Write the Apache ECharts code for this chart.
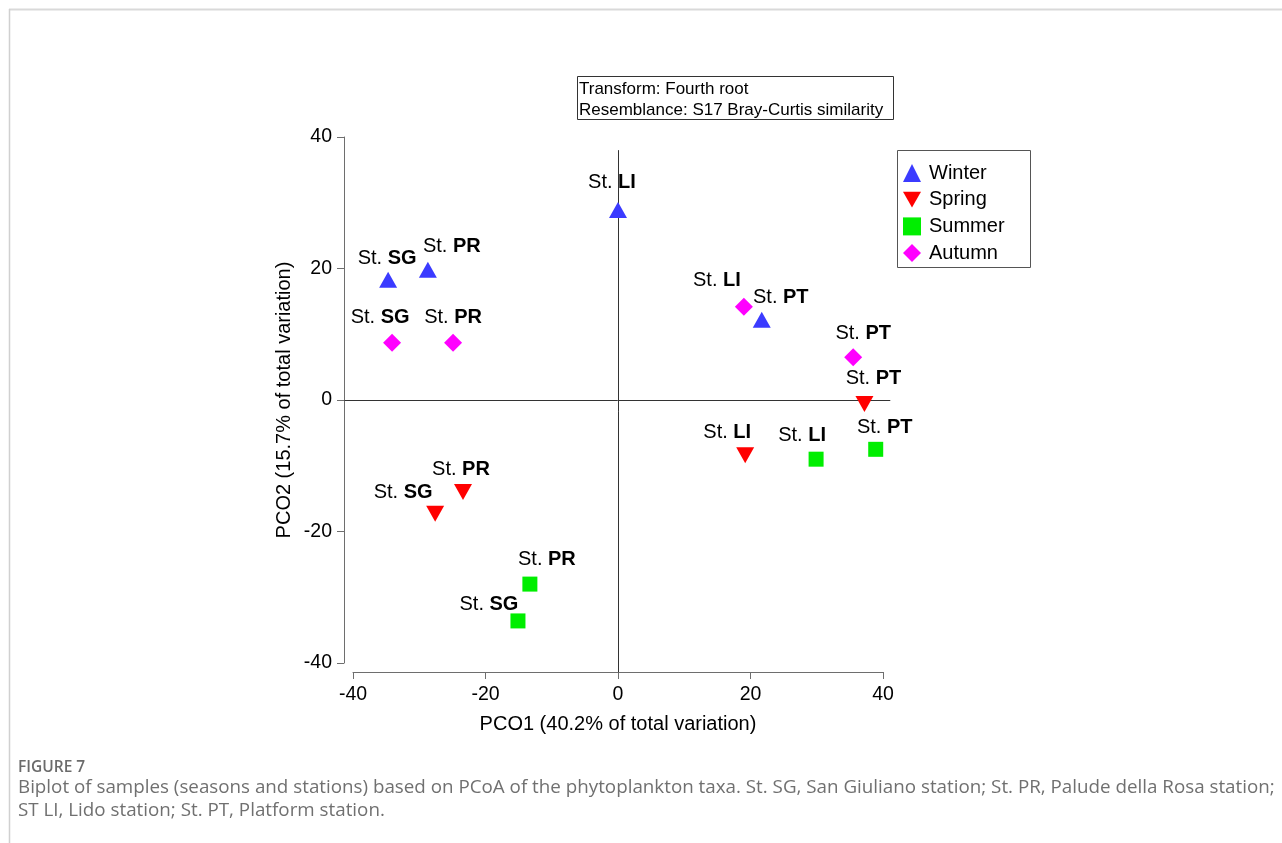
<!DOCTYPE html>
<html>
<head>
<meta charset="utf-8">
<script src="https://cdn.jsdelivr.net/npm/echarts@6/dist/echarts.min.js"></script>
<style>
html,body{margin:0;padding:0;background:#fff;}
#chart{width:1282px;height:843px;}
</style>
</head>
<body>
<div id="chart"></div>
<script>
// ---- data ----
const seasons = ['Winter', 'Spring', 'Summer', 'Autumn'];
const stations = ['SG', 'PR', 'LI', 'PT'];
const winterX = [-34.7, -28.7, 0.0, 21.7];
const winterY = [18.3, 19.8, 28.9, 12.2];
const springX = [-27.6, -23.4, 19.2, 37.2];
const springY = [-17.3, -14.0, -8.4, -0.6];
const summerX = [-15.1, -13.3, 29.9, 38.9];
const summerY = [-33.6, -28.0, -9.0, -7.5];
const autumnX = [-34.1, -24.9, 19.0, 35.5];
const autumnY = [8.7, 8.7, 14.2, 6.5];
const xTicks = [-40, -20, 0, 20, 40];
const yTicks = [-40, -20, 0, 20, 40];
const xName = 'PCO1 (40.2% of total variation)';
const yName = 'PCO2 (15.7% of total variation)';
const infoLines = ['Transform: Fourth root', 'Resemblance: S17 Bray-Curtis similarity'];
const figLabel = 'FIGURE 7';
const caption1 = 'Biplot of samples (seasons and stations) based on PCoA of the phytoplankton taxa. St. SG, San Giuliano station; St. PR, Palude della Rosa station;';
const caption2 = 'ST LI, Lido station; St. PT, Platform station.';

// ---- layout (label offsets, px, label centre relative to marker centre) ----
const labelOffsets = {
  Winter: [[-1, -21], [24, -23], [-6, -27], [19, -22]],
  Spring: [[-32, -21], [-2, -23], [-18, -23], [9, -25]],
  Summer: [[-29, -16], [17, -25], [-14, -24], [9, -22]],
  Autumn: [[-12, -25], [0, -25], [-27, -26], [10, -24]]
};
const styles = {
  Winter: {color: '#3b3bff', symbol: 'triangle', size: [18, 16]},
  Spring: {color: '#ff0000', symbol: 'path://M0,0L2,0L1,1.75Z', size: [18, 16]},
  Summer: {color: '#00ee00', symbol: 'rect', size: [15, 15]},
  Autumn: {color: '#ff00ff', symbol: 'diamond', size: [18, 18]}
};
const valuesX = {Winter: winterX, Spring: springX, Summer: summerX, Autumn: autumnX};
const valuesY = {Winter: winterY, Spring: springY, Summer: summerY, Autumn: autumnY};

const FONT = 'Liberation Sans, Arial, sans-serif';

const series = seasons.map(s => ({
  name: s,
  type: 'scatter',
  clip: false,
  symbol: styles[s].symbol,
  symbolSize: styles[s].size,
  itemStyle: {color: styles[s].color, opacity: 1},
  data: stations.map((st, i) => ({
    value: [valuesX[s][i], valuesY[s][i]],
    label: {
      show: true,
      position: 'inside',
      offset: labelOffsets[s][i],
      formatter: '{a|St. }{b|' + st + '}',
      rich: {
        a: {fontFamily: FONT, fontSize: 20, color: '#000'},
        b: {fontFamily: FONT, fontSize: 20, fontWeight: 'bold', color: '#000'}
      }
    }
  })),
  emphasis: {disabled: true}
}));

const chart = echarts.init(document.getElementById('chart'), null, {renderer: 'canvas'});

const axisColor = '#6e6e6e';
const option = {
  backgroundColor: '#fff',
  animation: false,
  grid: {left: 353, right: 399, top: 137, bottom: 180, containLabel: false},
  xAxis: {
    type: 'value', min: xTicks[0], max: xTicks[xTicks.length - 1], interval: 20,
    offset: 9,
    name: xName, nameLocation: 'middle', nameGap: 42,
    nameTextStyle: {fontFamily: FONT, fontSize: 20, color: '#000'},
    axisLine: {show: true, onZero: false, lineStyle: {color: axisColor, width: 1}},
    axisTick: {show: true, length: 7, lineStyle: {color: axisColor}},
    axisLabel: {fontFamily: FONT, fontSize: 19.5, color: '#000', margin: 13},
    splitLine: {show: false}
  },
  yAxis: {
    type: 'value', min: yTicks[0], max: yTicks[yTicks.length - 1], interval: 20,
    offset: 9,
    name: yName, nameLocation: 'middle', nameGap: 50, nameRotate: 90,
    nameTextStyle: {fontFamily: FONT, fontSize: 20, color: '#000'},
    axisLine: {show: true, onZero: false, lineStyle: {color: axisColor, width: 1}},
    axisTick: {show: true, length: 7, lineStyle: {color: axisColor}},
    axisLabel: {fontFamily: FONT, fontSize: 19.5, color: '#000', margin: 12},
    splitLine: {show: false}
  },
  legend: {
    orient: 'vertical',
    left: 903, top: 163,
    itemWidth: 18, itemHeight: 18, itemGap: 6.7,
    padding: 0,
    textStyle: {fontFamily: FONT, fontSize: 20, color: '#000', padding: [0, 0, 0, 3]},
    data: seasons
  },
  series: series
};
chart.setOption(option);

// zero reference lines and annotations
const v1 = chart.convertToPixel({gridIndex: 0}, [0, 38.0]);
const v2 = chart.convertToPixel({gridIndex: 0}, [0, -41.4]);
const h1 = chart.convertToPixel({gridIndex: 0}, [-41.3, 0]);
const h2 = chart.convertToPixel({gridIndex: 0}, [41.1, 0]);

chart.setOption({
  graphic: {elements: [
    {id: 'frameTop', type: 'line', shape: {x1: 9, y1: 9.5, x2: 1282, y2: 9.5}, style: {stroke: '#d9d9d9', lineWidth: 2}, silent: true},
    {id: 'frameLeft', type: 'line', shape: {x1: 9.5, y1: 9, x2: 9.5, y2: 843}, style: {stroke: '#d0d0d0', lineWidth: 1.5}, silent: true},
    {id: 'vzero', type: 'line', shape: {x1: Math.round(v1[0]) + 0.5, y1: v1[1], x2: Math.round(v2[0]) + 0.5, y2: v2[1]}, style: {stroke: '#333', lineWidth: 1}, silent: true, z: 1},
    {id: 'hzero', type: 'line', shape: {x1: h1[0], y1: Math.round(h1[1]) + 0.5, x2: h2[0], y2: Math.round(h2[1]) + 0.5}, style: {stroke: '#333', lineWidth: 1}, silent: true, z: 1},
    {id: 'infoBox', type: 'rect', shape: {x: 577.5, y: 76.5, width: 316, height: 43}, style: {fill: '#fff', stroke: '#333', lineWidth: 1}, silent: true},
    {id: 'info1', type: 'text', x: 579, y: 89, style: {text: infoLines[0], font: '17px ' + FONT, fill: '#000', textVerticalAlign: 'middle'}, silent: true},
    {id: 'info2', type: 'text', x: 579, y: 110, style: {text: infoLines[1], font: '17px ' + FONT, fill: '#000', textVerticalAlign: 'middle'}, silent: true},
    {id: 'legendBox', type: 'rect', shape: {x: 897.5, y: 150.5, width: 133, height: 117}, style: {fill: 'transparent', stroke: '#555', lineWidth: 1}, silent: true},
    {id: 'fig', type: 'text', x: 18, y: 768, style: {text: figLabel, font: '600 15.5px "Open Sans", sans-serif', fill: '#6b6b6b', textVerticalAlign: 'middle'}, silent: true},
    {id: 'cap1', type: 'text', x: 18, y: 788, style: {text: caption1, font: '18.8px "Open Sans", sans-serif', fill: '#707070', textVerticalAlign: 'middle'}, silent: true},
    {id: 'cap2', type: 'text', x: 18, y: 811, style: {text: caption2, font: '18.8px "Open Sans", sans-serif', fill: '#707070', textVerticalAlign: 'middle'}, silent: true}
  ]}
});
</script>
</body>
</html>
